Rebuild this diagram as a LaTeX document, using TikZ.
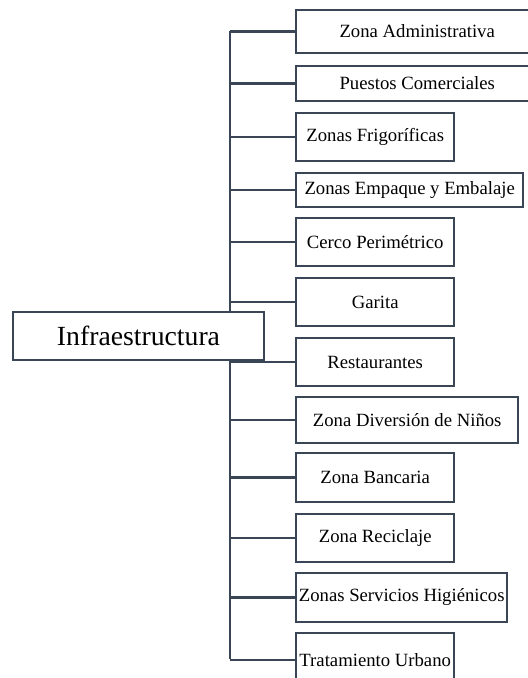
\documentclass[tikz,border=0pt]{standalone}
\usepackage{fontspec}
\setmainfont{Liberation Serif}
\usepackage{tikz}
\usetikzlibrary{positioning}
\definecolor{slate}{HTML}{3A4656}

\begin{document}
\begin{tikzpicture}[x=0.5pt,y=-0.5pt,
	zonebox/.style={draw=slate,line width=1.2pt,fill=white,inner xsep=1pt,
		font=\fontsize{9.35}{11}\selectfont,anchor=west},
	rootbox/.style={draw=slate,line width=1.2pt,fill=white,
		font=\fontsize{13.85}{16}\selectfont,minimum width=125.5pt,minimum height=24pt}]
	\clip (0,0) rectangle (528,678);
	\coordinate (trunktop) at (230,31.5);
	\coordinate (trunkbot) at (230,659);
	\draw[slate,line width=1.2pt] (trunktop) -- (trunkbot);
	\foreach \n/\y/\h/\w/\t in {adm/31.5/43/242/Zona Administrativa,
		pue/83.5/35/242/Puestos Comerciales,
		fri/137/48/158/Zonas Frigoríficas,
		emp/190/34/227/Zonas Empaque y Embalaje,
		cer/242/48/158/Cerco Perimétrico,
		gar/302/48/158/Garita,
		res/362/48/158/Restaurantes,
		div/420/46/222/Zona Diversión de Niños,
		ban/477.5/49/158/Zona Bancaria,
		rec/538/48/158/Zona Reciclaje,
		hig/597.5/49/211/Zonas Servicios Higiénicos,
		tra/660/54/158/Tratamiento Urbano}{
		\node[zonebox,minimum height=\h*0.5pt,minimum width=\w*0.5pt] (\n) at (295,\y) {\t};
		\draw[slate,line width=1.2pt] (\n.west -| trunktop) -- (\n.west);}
	\node[rootbox] (infra) at (138.5,336) {Infraestructura};
\end{tikzpicture}
\end{document}
